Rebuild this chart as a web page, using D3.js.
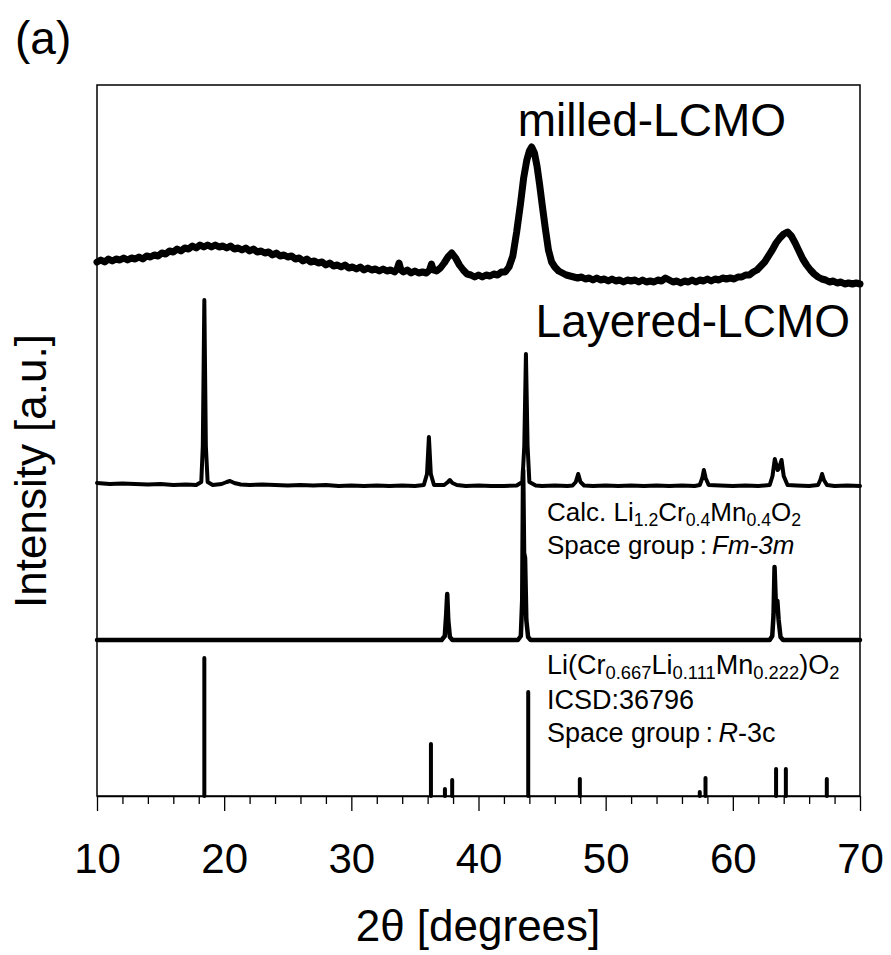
<!DOCTYPE html>
<html>
<head>
<meta charset="utf-8">
<script src="https://cdn.jsdelivr.net/npm/d3@7"></script>
<style>
  html, body { margin: 0; padding: 0; background: #fff; }
  svg { display: block; }
  text { font-family: "Liberation Sans", Arial, sans-serif; fill: #000; }
</style>
</head>
<body>
<svg id="chart" width="891" height="955"></svg>
<script>
// ---------- DATA ----------
const xMajorTicks = [10, 20, 30, 40, 50, 60, 70];
const xMinorTicks = [12, 14, 16, 18, 22, 24, 26, 28, 32, 34, 36, 38, 42, 44, 46, 48, 52, 54, 56, 58, 62, 64, 66, 68];

// vertical offsets of the stacked patterns (a.u.)
const offsetMilled = 500;
const offsetLayered = 310;
const offsetCalc = 156;
const offsetICSD = 0;

// milled-LCMO pattern [2theta, intensity]
const milledData = [
[10.0,34],[10.3,36],[10.6,34],[10.9,37],[11.2,35],[11.5,37],[11.8,36],[12.1,38],[12.4,36],[12.7,38],[13.0,37],[13.3,39],[13.6,37],[13.9,40],[14.2,39],[14.5,41],[14.8,40],[15.1,43],[15.4,42],[15.7,45],[16.0,44],[16.3,47],[16.6,45],[16.9,48],[17.2,47],[17.5,50],[17.8,48],[18.1,51],[18.4,49],[18.7,51],[19.0,49],[19.3,51],[19.6,49],[19.9,50],[20.2,48],[20.5,50],[20.8,47],[21.1,48],[21.4,46],[21.7,48],[22.0,45],[22.3,47],[22.6,44],[22.9,45],[23.2,43],[23.5,44],[23.8,41],[24.1,43],[24.4,40],[24.7,41],[25.0,39],[25.3,40],[25.6,37],[25.9,38],[26.2,35],[26.5,37],[26.8,34],[27.1,35],[27.4,33],[27.7,34],[28.0,31],[28.3,33],[28.6,30],[28.9,31],[29.2,29],[29.5,31],[29.8,28],[30.1,29],[30.4,27],[30.7,29],[31.0,26],[31.3,28],[31.6,26],[31.9,27],[32.2,25],[32.5,27],[32.8,25],[33.1,26],[33.4,24],[33.6,27],[33.75,33],[33.9,26],[34.1,24],[34.4,26],[34.7,23],[35.0,25],[35.3,23],[35.6,24],[35.9,23],[36.15,26],[36.3,32],[36.45,26],[36.7,25],[37.0,28],[37.3,33],[37.6,39],[37.9,43],[38.2,38],[38.5,31],[38.8,26],[39.1,22],[39.4,21],[39.7,19],[40.0,21],[40.3,19],[40.6,21],[40.9,20],[41.2,22],[41.5,21],[41.8,24],[42.1,24],[42.4,29],[42.7,40],[43.0,64],[43.3,92],[43.55,118],[43.8,136],[44.0,145],[44.18,149],[44.4,143],[44.6,130],[44.8,112],[45.0,92],[45.25,68],[45.5,46],[45.75,34],[46.0,29],[46.3,25],[46.6,23],[46.9,21],[47.2,20],[47.5,19],[47.8,18],[48.1,19],[48.4,17],[48.7,18],[49.0,16],[49.3,18],[49.6,16],[49.9,17],[50.2,15],[50.5,17],[50.8,15],[51.1,16],[51.4,14],[51.7,16],[52.0,15],[52.3,16],[52.6,14],[52.9,16],[53.2,14],[53.5,15],[53.8,14],[54.1,16],[54.4,15],[54.7,18],[55.0,16],[55.3,14],[55.6,15],[55.9,13],[56.2,15],[56.5,14],[56.8,16],[57.1,14],[57.4,16],[57.7,15],[58.0,17],[58.3,15],[58.6,17],[58.9,16],[59.2,18],[59.5,17],[59.8,18],[60.1,17],[60.4,19],[60.7,19],[61.0,21],[61.3,21],[61.6,24],[61.9,26],[62.2,30],[62.5,34],[62.8,40],[63.1,46],[63.4,53],[63.7,58],[64.0,62],[64.3,64],[64.6,60],[64.9,53],[65.2,45],[65.5,37],[65.8,31],[66.1,26],[66.4,22],[66.7,19],[67.0,17],[67.3,16],[67.6,14],[67.9,15],[68.2,13],[68.5,14],[68.8,12],[69.1,13],[69.4,12],[69.7,13],[70.0,12]
];

// Layered-LCMO pattern [2theta, intensity]
const layeredData = [
[10,3],[11,2],[12,2.5],[13,2],[14,1.5],[15,2],[16,1],[17,1.5],[17.8,1],[18.2,4],[18.32,40],[18.44,186],[18.56,40],[18.7,4],[19.1,1],[19.8,2],[20.2,4],[20.46,5],[20.8,3],[21.3,1.5],[22,1],[23,1.5],[24,1],[25,0.5],[26,1],[27,0.5],[28,1],[29,0],[30,0.5],[31,0],[32,0.5],[33,0],[34,0.5],[35,0],[35.7,1],[35.95,12],[36.1,49],[36.25,12],[36.5,1],[37.3,1],[37.6,4],[37.75,6],[37.95,3],[38.3,1],[39,0],[40,0.5],[41,0],[42,0],[43,0.5],[43.45,4],[43.6,40],[43.73,132],[43.86,40],[44.0,4],[44.5,0.5],[45,0],[46,0.5],[47,0],[47.4,0.5],[47.65,4],[47.84,12],[48.02,4],[48.3,0.5],[49,0],[50,0.5],[51,0],[52,0.5],[53,0],[54,0.5],[55,0],[56,0.5],[57,0],[57.4,1],[57.6,8],[57.72,16],[57.86,8],[58.1,1],[59,0.5],[60,0],[61,0.5],[62,0],[62.9,1],[63.12,10],[63.3,27],[63.52,16],[63.6,17],[63.83,26],[64.0,10],[64.3,1],[65,0.5],[66,0],[66.7,1],[66.88,6],[67.02,12],[67.16,6],[67.4,1],[68,0],[69,0.5],[70,0]
];

// Calc. Li1.2Cr0.4Mn0.4O2 (Fm-3m) pattern [2theta, intensity]
const calcData = [
[10,0],[37.1,0],[37.35,4],[37.46,25],[37.54,46],[37.62,20],[37.75,3],[37.95,0],[43.1,0],[43.33,4],[43.44,40],[43.51,170],[43.58,87],[43.66,82],[43.76,20],[43.9,3],[44.1,0],[62.9,0],[63.1,4],[63.2,25],[63.28,73],[63.37,40],[63.5,39],[63.6,20],[63.75,3],[63.95,0],[70,0]
];

// ICSD:36796 reference sticks
const icsdPositions = [18.44, 36.26, 37.36, 37.93, 43.91, 47.97, 57.4, 57.85, 63.4, 64.17, 67.39];
const icsdHeights   = [138, 52, 7, 16, 104, 17, 4, 18, 27, 27, 17];

// ---------- CHART ----------
const svg = d3.select("#chart");
const x = d3.scaleLinear().domain([10, 70]).range([97, 860]);
const y = d3.scaleLinear().domain([0, 711]).range([796, 85]);

const line = (offset) => d3.line()
  .x(d => x(d[0]))
  .y(d => y(d[1] + offset));

// frame
svg.append("rect")
  .attr("x", x(10)).attr("y", y(711))
  .attr("width", x(70) - x(10)).attr("height", y(0) - y(711))
  .attr("fill", "none").attr("stroke", "#000").attr("stroke-width", 1.5);

// traces
svg.append("path").datum(milledData)
  .attr("d", line(offsetMilled))
  .attr("fill", "none").attr("stroke", "#000")
  .attr("stroke-width", 7).attr("stroke-linejoin", "round").attr("stroke-linecap", "round");

svg.append("path").datum(layeredData)
  .attr("d", line(offsetLayered))
  .attr("fill", "none").attr("stroke", "#000")
  .attr("stroke-width", 4).attr("stroke-linejoin", "round").attr("stroke-linecap", "round");

svg.append("path").datum(calcData)
  .attr("d", line(offsetCalc))
  .attr("fill", "none").attr("stroke", "#000")
  .attr("stroke-width", 4.5).attr("stroke-linejoin", "round").attr("stroke-linecap", "round");

svg.append("g").selectAll("line")
  .data(icsdPositions.map((p, i) => [p, icsdHeights[i]]))
  .join("line")
  .attr("x1", d => x(d[0])).attr("x2", d => x(d[0]))
  .attr("y1", y(offsetICSD)).attr("y2", d => y(d[1] + offsetICSD))
  .attr("stroke", "#000").attr("stroke-width", 4).attr("stroke-linecap", "round");

// x axis
const axMajor = svg.append("g").attr("transform", `translate(0,${y(0)})`)
  .call(d3.axisBottom(x).tickValues(xMajorTicks).tickSize(15).tickPadding(32).tickSizeOuter(0).tickFormat(d3.format("d")));
axMajor.select(".domain").attr("stroke-width", 1.5);
axMajor.selectAll(".tick line").attr("stroke-width", 1.3);
axMajor.selectAll(".tick text").attr("font-size", 42).attr("font-family", "Liberation Sans, Arial, sans-serif");

const axMinor = svg.append("g").attr("transform", `translate(0,${y(0)})`)
  .call(d3.axisBottom(x).tickValues(xMinorTicks).tickSize(8).tickSizeOuter(0).tickFormat(""));
axMinor.select(".domain").remove();
axMinor.selectAll(".tick line").attr("stroke-width", 1.3);

// axis titles
svg.append("text").attr("x", 478).attr("y", 941).attr("text-anchor", "middle")
  .attr("font-size", 44).text("2θ [degrees]");
svg.append("text").attr("transform", "translate(46,471) rotate(-90)").attr("text-anchor", "middle")
  .attr("font-size", 44).text("Intensity [a.u.]");

// panel label
svg.append("text").attr("x", 15).attr("y", 54).attr("font-size", 46).text("(a)");

// series labels
svg.append("text").attr("x", 786).attr("y", 136).attr("text-anchor", "end")
  .attr("font-size", 46).text("milled-LCMO");
svg.append("text").attr("x", 850).attr("y", 337).attr("text-anchor", "end")
  .attr("font-size", 46).text("Layered-LCMO");

function richLine(xp, yp, size, parts) {
  const t = svg.append("text").attr("x", xp).attr("y", yp).attr("font-size", size);
  parts.forEach(p => {
    const ts = t.append("tspan").text(p.t);
    if (p.sub) ts.attr("font-size", size * 0.68).attr("dy", size * 0.18);
    if (p.after) ts.attr("dy", -size * 0.18);
    if (p.it) ts.attr("font-style", "italic");
  });
  return t;
}

richLine(547, 521, 26, [
  {t: "Calc. Li"}, {t: "1.2", sub: true}, {t: "Cr", after: true}, {t: "0.4", sub: true},
  {t: "Mn", after: true}, {t: "0.4", sub: true}, {t: "O", after: true}, {t: "2", sub: true}
]);
richLine(547, 554, 26, [
  {t: "Space group\u2009:\u2009"}, {t: "Fm-3m", it: true}
]);

richLine(547, 674, 27, [
  {t: "Li(Cr"}, {t: "0.667", sub: true}, {t: "Li", after: true}, {t: "0.111", sub: true},
  {t: "Mn", after: true}, {t: "0.222", sub: true}, {t: ")O", after: true}, {t: "2", sub: true}
]);
richLine(547, 709, 27, [{t: "ICSD:36796"}]);
richLine(547, 742, 27, [
  {t: "Space group\u2009:\u2009"}, {t: "R", it: true}, {t: "-3c"}
]);
</script>
</body>
</html>
